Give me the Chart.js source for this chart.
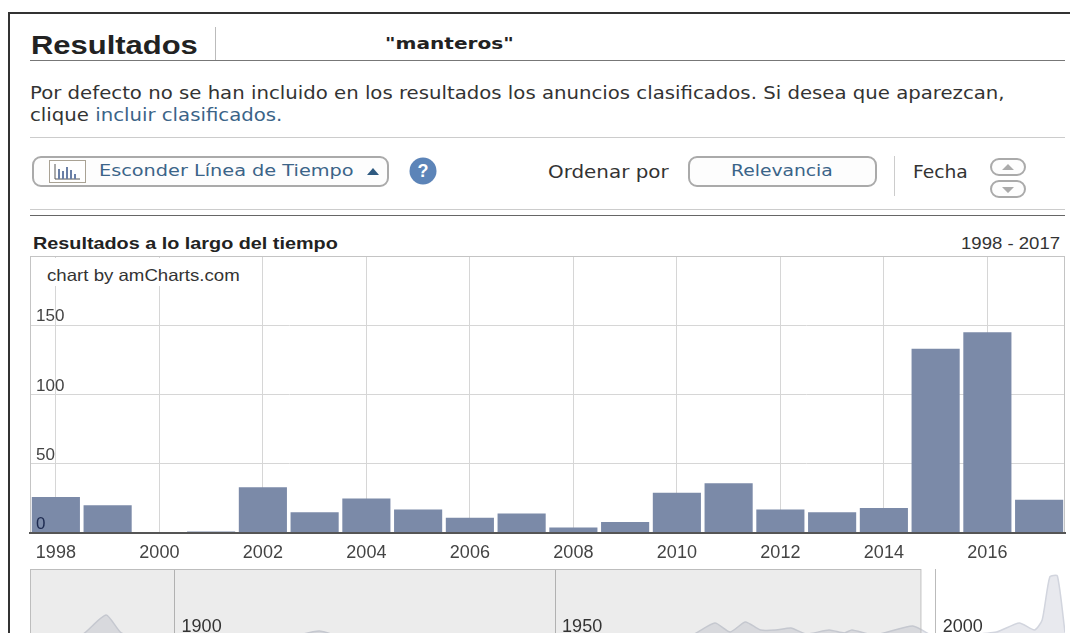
<!DOCTYPE html>
<html>
<head>
<meta charset="utf-8">
<title>Resultados</title>
<script src="https://cdn.jsdelivr.net/npm/chart.js@4"></script>
<style>
html, body { margin: 0; padding: 0; background: #fff; overflow: hidden; width: 1070px; height: 633px; }
.t { position: absolute; white-space: nowrap; font-family: "DejaVu Sans", sans-serif; color: #333; line-height: 1; transform-origin: left center; }
.arial { font-family: "Liberation Sans", Arial, sans-serif; }
.link { color: #3b6488; }
.box { position: absolute; box-sizing: border-box; }
.btn { border: 2px solid #aaa; border-radius: 9px; background: #fdfdfd; }
.rule { position: absolute; left: 30px; width: 1035px; }
#main, #over { position: absolute; left: 0; }
#main { top: 250px; width: 1070px; height: 320px; }
#over { top: 569px; width: 1070px; height: 81px; }
</style>
</head>
<body>
<div class="box" style="left:8px;top:12px;width:1062px;height:621px;border-left:2px solid #333;border-top:2px solid #333"></div>

<div class="t arial" style="left:31px;top:32px;font-size:26px;font-weight:bold;color:#222;transform:scaleX(1.19)">Resultados</div>
<div class="box" style="left:215px;top:27px;width:1px;height:33px;background:#bbb"></div>
<div class="t" style="left:385px;top:37px;font-size:15px;font-weight:bold;color:#222;transform:scaleX(1.34)">"manteros"</div>
<div class="rule" style="top:60px;height:1px;background:#777"></div>

<div class="t" style="left:30px;top:85px;font-size:17.5px;transform:scaleX(1.126)">Por defecto no se han incluido en los resultados los anuncios clasificados. Si desea que aparezcan,</div>
<div class="t" style="left:30px;top:107px;font-size:17.5px;transform:scaleX(1.126)">clique <span class="link">incluir clasificados.</span></div>
<div class="rule" style="top:137px;height:1px;background:#ccc"></div>

<div class="box btn" style="left:32px;top:156px;width:357px;height:31px"></div>
<svg class="box" style="left:49px;top:160px" width="37" height="23">
  <rect x="0.5" y="0.5" width="36" height="22" fill="#fff" stroke="#a9a294"/>
  <path d="M6 4V19H31" fill="none" stroke="#555" stroke-width="1"/>
  <path d="M9 9h2v10H9zM13 11h2v8h-2zM17 7h2v12h-2zM21 10h2v9h-2zM25 14h2v5h-2z" fill="#6a7fa6"/>
</svg>
<div class="t link" style="left:99px;top:163px;font-size:16px;transform:scaleX(1.205)">Esconder Línea de Tiempo</div>
<svg class="box" style="left:366px;top:167px" width="14" height="9"><path d="M1 8L7 1L13 8Z" fill="#2f5a80"/></svg>
<svg class="box" style="left:409px;top:157px" width="28" height="28">
  <circle cx="14" cy="14" r="13.5" fill="#5c84b8"/>
  <text x="14" y="20" text-anchor="middle" font-family="Liberation Sans" font-weight="bold" font-size="18" fill="#fff">?</text>
</svg>
<div class="t" style="left:548px;top:164px;font-size:17px;transform:scaleX(1.17)">Ordenar por</div>
<div class="box btn" style="left:688px;top:156px;width:189px;height:31px"></div>
<div class="t link" style="left:731px;top:163px;font-size:16px;transform:scaleX(1.17)">Relevancia</div>
<div class="box" style="left:894px;top:156px;width:1px;height:40px;background:#ccc"></div>
<div class="t" style="left:913px;top:164px;font-size:17px;transform:scaleX(1.1)">Fecha</div>
<div class="box btn" style="left:990px;top:158px;width:36px;height:18px"></div>
<div class="box btn" style="left:990px;top:180px;width:36px;height:18px"></div>
<svg class="box" style="left:1001px;top:163px" width="14" height="30">
  <path d="M1 7L7 1L13 7ZM1 24L7 30L13 24Z" fill="#aaa"/>
</svg>
<div class="rule" style="top:209px;height:1px;background:#ccc"></div>
<div class="rule" style="top:215px;height:1px;background:#666"></div>

<div class="t arial" style="left:33px;top:235px;font-size:16.5px;font-weight:bold;color:#222;transform:scaleX(1.2)">Resultados a lo largo del tiempo</div>
<div class="t arial" style="left:961px;top:235px;font-size:16.5px;transform:scaleX(1.125)">1998 - 2017</div>

<div id="main"><canvas id="myChart"></canvas></div>
<div class="box" style="left:31px;top:258px;width:214px;height:28px;background:#fff"></div>
<div class="t arial" style="left:47px;top:267px;font-size:16.5px;transform:scaleX(1.13)">chart by amCharts.com</div>
<div id="over"><canvas id="overChart"></canvas></div>

<script>
const years = ['1998','1999','2000','2001','2002','2003','2004','2005','2006','2007','2008','2009','2010','2011','2012','2013','2014','2015','2016','2017'];
const counts = [26,20,0,1,33,15,25,17,11,14,4,8,29,36,17,15,18,133,145,24];

// overview strip below the bars, rough read of the visible part
const overYears = [1881,1885,1888,1891,1893,1897,1905,1915,1919,1922,1935,1950,1960,1965,1968,1971,1973,1975,1977,1979,1981,1983,1986,1988,1989,1992,1997,2000,2004,2008,2011,2013,2014,2015,2016,2017];
const overValues = [0,10,32,70,34,14,14,26,38,26,14,16,18,22,30,54,36,56,40,40,44,32,40,34,40,30,48,26,30,36,54,40,60,146,148,35];

const gridGrey = '#d6d6d6';

const frame = {
  id: 'frame',
  beforeDatasetsDraw(chart) {
    const a = chart.chartArea;
    chart.ctx.save();
    chart.ctx.strokeStyle = '#c4c4c4';
    chart.ctx.strokeRect(a.left + 0.5, a.top + 0.5, a.width - 1, a.height);
    chart.ctx.restore();
  }
};

const main = new Chart(document.getElementById('myChart'), {
  type: 'bar',
  data: {
    labels: years,
    datasets: [{
      data: counts,
      backgroundColor: '#7b8aa8',
      barPercentage: 0.93,
      categoryPercentage: 1
    }]
  },
  options: {
    responsive: true,
    maintainAspectRatio: false,
    animation: false,
    layout: { padding: { left: 30, right: 5, top: 6, bottom: 0 } },
    plugins: { legend: { display: false }, tooltip: { enabled: false } },
    scales: {
      x: {
        afterFit: s => { s.height = 37; s.paddingLeft = 0; s.paddingRight = 0; },
        border: { color: '#555', width: 2, z: 1 },
        grid: {
          offset: false,
          drawTicks: false,
          color: c => (c.index % 2 === 0 ? gridGrey : 'transparent')
        },
        ticks: {
          autoSkip: false,
          maxRotation: 0,
          padding: 9,
          color: '#444',
          font: { family: 'Liberation Sans', size: 18 },
          callback: function (v, i) { return i % 2 === 0 ? years[i] : ''; }
        }
      },
      y: {
        min: 0,
        max: 200,
        afterFit: s => { s.width = 0; s.paddingTop = 0; s.paddingBottom = 0; },
        border: { color: '#c4c4c4' },
        grid: { color: gridGrey, drawTicks: false },
        ticks: {
          stepSize: 50,
          mirror: true,
          padding: 6,
          align: 'end',
          z: 1,
          color: c => (c.tick.value === 0 ? '#1d2a50' : '#444'),
          font: { family: 'Liberation Sans', size: 17 },
          callback: v => (v > 150 ? '' : v)
        }
      }
    }
  },
  plugins: [frame]
});

const overShade = {
  id: 'overShade',
  afterDatasetsDraw(chart) {
    const ctx = chart.ctx, a = chart.chartArea, x = chart.scales.x;
    const right = x.getPixelForValue(1998);
    ctx.save();
    ctx.fillStyle = 'rgba(120,120,120,0.14)';
    ctx.fillRect(a.left, a.top, right - a.left, a.height);
    ctx.strokeStyle = '#bdbdbd';
    ctx.strokeRect(a.left + 0.5, a.top + 0.5, right - a.left, a.height + 20);
    ctx.fillStyle = '#333';
    ctx.font = '18px "Liberation Sans"';
    ctx.textBaseline = 'alphabetic';
    x.ticks.forEach(t => {
      ctx.fillText(String(t.value), x.getPixelForValue(t.value) + 7, 63);
    });
    ctx.restore();
  }
};

const over = new Chart(document.getElementById('overChart'), {
  type: 'scatter',
  data: {
    datasets: [{
      data: overYears.map((y, i) => ({ x: y, y: overValues[i] })),
      showLine: true,
      tension: 0.2,
      pointRadius: 0,
      borderWidth: 1.5,
      borderColor: '#d2d5de',
      backgroundColor: '#e8e9ee',
      fill: 'origin'
    }]
  },
  options: {
    responsive: true,
    maintainAspectRatio: false,
    animation: false,
    layout: { padding: { left: 30, right: 5 } },
    plugins: { legend: { display: false }, tooltip: { enabled: false } },
    scales: {
      x: {
        min: 1881,
        max: 2017,
        afterFit: s => { s.height = 0; },
        border: { display: false },
        grid: { color: '#bbb', drawTicks: false },
        ticks: { display: false, stepSize: 50, includeBounds: false }
      },
      y: {
        display: false,
        min: 0,
        max: 162
      }
    }
  },
  plugins: [overShade]
});
</script>
</body>
</html>
